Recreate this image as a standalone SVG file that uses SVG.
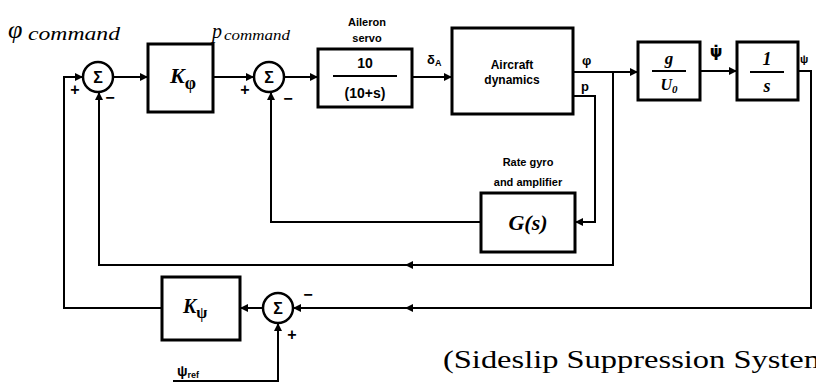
<svg xmlns="http://www.w3.org/2000/svg" width="816" height="383" viewBox="0 0 816 383">
<style>
.box{fill:none;stroke:#000;stroke-width:3}
.sum{fill:#fff;stroke:#000;stroke-width:2.5}
.ln{fill:none;stroke:#000;stroke-width:2}
.lbl{font-family:"Liberation Sans",Arial,sans-serif;font-weight:bold;fill:#000}
.hand{font-family:"Liberation Serif","Times New Roman",serif;font-style:italic;fill:#000}
.sig{font-family:"Liberation Sans",Arial,sans-serif;font-weight:bold;font-size:16px;fill:#000;text-anchor:middle}
.mid{text-anchor:middle}
</style>
<defs>
<marker id="ar" viewBox="0 0 10 10" refX="10" refY="5" markerWidth="8" markerHeight="8" markerUnits="userSpaceOnUse" orient="auto">
<path d="M0,0 L10,5 L0,10 z" fill="#000"/>
</marker>
</defs>

<g id="connectors">
<path class="ln" d="M162,308 H64 V77 H83" marker-end="url(#ar)"/>
<path class="ln" d="M113,77 H148" marker-end="url(#ar)"/>
<path class="ln" d="M213,77 H254" marker-end="url(#ar)"/>
<path class="ln" d="M284,77 H318" marker-end="url(#ar)"/>
<path class="ln" d="M412,77 H452" marker-end="url(#ar)"/>
<path class="ln" d="M573,72 H638" marker-end="url(#ar)"/>
<path class="ln" d="M613,72 V265 H405" marker-end="url(#ar)"/>
<path class="ln" d="M405,265 H99 V92" marker-end="url(#ar)"/>
<path class="ln" d="M573,96 H595 V222 H575" marker-end="url(#ar)"/>
<path class="ln" d="M481,222 H271 V92" marker-end="url(#ar)"/>
<path class="ln" d="M700,71 H737" marker-end="url(#ar)"/>
<path class="ln" d="M798,71 H811 V308 H405" marker-end="url(#ar)"/>
<path class="ln" d="M405,308 H293" marker-end="url(#ar)"/>
<path class="ln" d="M263,308 H240" marker-end="url(#ar)"/>
<path class="ln" d="M173,381 H278 V323" marker-end="url(#ar)"/>
</g>

<g id="sum1">
<circle class="sum" cx="98" cy="77" r="15"/>
<text class="sig" x="98" y="83">Σ</text>
<text class="sig" x="75" y="95">+</text>
<text class="sig" x="110" y="103">−</text>
</g>

<g id="Kphi">
<rect class="box" x="148" y="44" width="65" height="68"/>
<text class="hand" x="170" y="83" font-size="22" font-weight="bold">K<tspan font-size="18" dy="6" font-style="normal">φ</tspan></text>
</g>

<g id="sum2">
<circle class="sum" cx="269" cy="77" r="15"/>
<text class="sig" x="269" y="83">Σ</text>
<text class="sig" x="245" y="95">+</text>
<text class="sig" x="288" y="104">−</text>
</g>

<g id="servo">
<rect class="box" x="318" y="49" width="94" height="58"/>
<text class="lbl mid" x="367" y="26" font-size="11">Aileron</text>
<text class="lbl mid" x="367" y="42" font-size="11">servo</text>
<text class="lbl mid" x="365" y="68" font-size="14">10</text>
<line class="ln" x1="333" y1="76" x2="397" y2="76"/>
<text class="lbl mid" x="365" y="98" font-size="14">(10+s)</text>
</g>

<g id="aircraft">
<rect class="box" x="452" y="28" width="121" height="86"/>
<text class="lbl mid" x="512" y="69" font-size="12">Aircraft</text>
<text class="lbl mid" x="512" y="84" font-size="12">dynamics</text>
<text class="lbl" x="427" y="64" font-size="13">δ<tspan font-size="9" dy="2">A</tspan></text>
<text class="lbl" x="582" y="65" font-size="13">φ</text>
<text class="lbl" x="581" y="91" font-size="13">p</text>
</g>

<g id="Gs">
<rect class="box" x="481" y="193" width="94" height="59"/>
<text class="lbl mid" x="528" y="166" font-size="11">Rate gyro</text>
<text class="lbl mid" x="528" y="186" font-size="11">and amplifier</text>
<text class="hand mid" x="528" y="230" font-size="22" font-weight="bold">G(s)</text>
</g>

<g id="gU0">
<rect class="box" x="638" y="42" width="62" height="58"/>
<text class="hand mid" x="669" y="64" font-size="17" font-weight="bold">g</text>
<line class="ln" x1="652" y1="71" x2="686" y2="71"/>
<text class="hand mid" x="669" y="90" font-size="16" font-weight="bold">U<tspan font-size="11" dy="3">0</tspan></text>
<text x="716" y="57" font-family="'DejaVu Sans',sans-serif" font-weight="bold" font-size="16" text-anchor="middle">ψ̇</text>
</g>

<g id="integrator">
<rect class="box" x="737" y="42" width="61" height="58"/>
<text class="hand mid" x="767" y="65" font-size="18" font-weight="bold">1</text>
<line class="ln" x1="750" y1="72" x2="784" y2="72"/>
<text class="hand mid" x="767" y="92" font-size="18" font-weight="bold">s</text>
<text class="lbl" x="800" y="63" font-size="11">ψ</text>
</g>

<g id="Kpsi">
<rect class="box" x="162" y="277" width="78" height="63"/>
<text class="hand" x="183" y="313" font-size="20" font-weight="bold">K<tspan font-size="16" dy="5" font-style="normal">ψ</tspan></text>
</g>

<g id="sum3">
<circle class="sum" cx="278" cy="308" r="15"/>
<text class="sig" x="278" y="314">Σ</text>
<text class="sig" x="308" y="300">−</text>
<text class="sig" x="292" y="340">+</text>
<text class="lbl" x="177" y="376" font-size="14">ψ<tspan font-size="9" dy="2">ref</tspan></text>
</g>

<g id="labels">
<text class="hand" x="8" y="38" font-size="26">φ</text>
<text class="hand" x="28" y="40" font-size="18" textLength="92" lengthAdjust="spacingAndGlyphs">command</text>
<text class="hand" x="212" y="38" font-size="20">p</text>
<text class="hand" x="224" y="40" font-size="15" textLength="66" lengthAdjust="spacingAndGlyphs">command</text>
<text x="443" y="368" font-family="'Liberation Serif','Times New Roman',serif" font-size="25" textLength="386" lengthAdjust="spacingAndGlyphs">(Sideslip Suppression System</text>
</g>
</svg>
